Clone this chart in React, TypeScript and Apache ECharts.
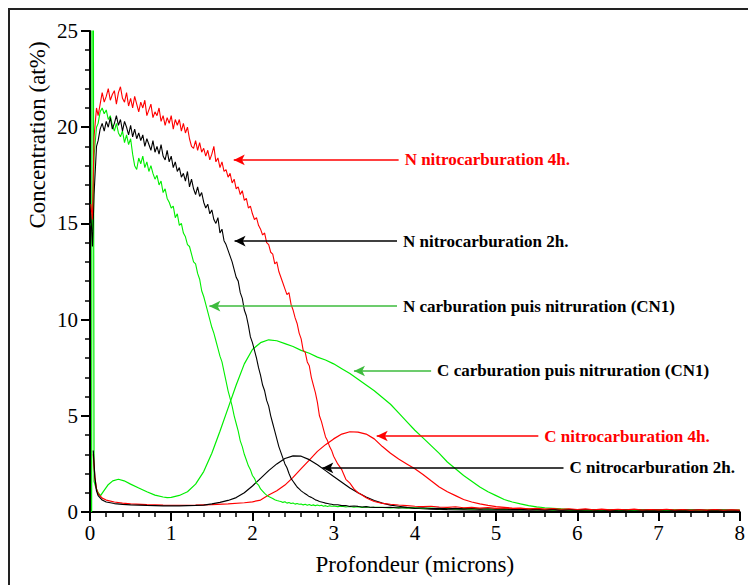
import { useEffect, useRef } from 'react';
import * as echarts from 'echarts';

// ---------- data (depth in microns, concentration in at%) ----------
const depthSurfaceN = [0.01, 0.03, 0.05, 0.08];
const depthFine = [
  0.100, 0.125, 0.150, 0.175, 0.200, 0.225, 0.250, 0.275, 0.300, 0.325,
  0.350, 0.375, 0.400, 0.425, 0.450, 0.475, 0.500, 0.525, 0.550, 0.575,
  0.600, 0.625, 0.650, 0.675, 0.700, 0.725, 0.750, 0.775, 0.800, 0.825,
  0.850, 0.875, 0.900, 0.925, 0.950, 0.975, 1.000, 1.025, 1.050, 1.075,
  1.100, 1.125, 1.150, 1.175, 1.200, 1.225, 1.250, 1.275, 1.300, 1.325,
  1.350, 1.375, 1.400, 1.425, 1.450, 1.475, 1.500, 1.525, 1.550, 1.575,
  1.600, 1.625, 1.650, 1.675, 1.700, 1.725, 1.750, 1.775, 1.800, 1.825,
  1.850, 1.875, 1.900, 1.925, 1.950, 1.975, 2.000, 2.025, 2.050, 2.075,
  2.100, 2.125, 2.150, 2.175, 2.200, 2.225, 2.250, 2.275, 2.300, 2.325,
  2.350, 2.375, 2.400, 2.425, 2.450, 2.475, 2.500, 2.525, 2.550, 2.575,
  2.600, 2.625, 2.650, 2.675, 2.700, 2.725, 2.750, 2.775, 2.800, 2.825,
  2.850, 2.875, 2.900, 2.925, 2.950, 2.975, 3.000,
];
const depthMid = [3.05, 3.10, 3.15, 3.20, 3.25, 3.30, 3.35, 3.40, 3.45, 3.50];
const depthTail = [
  3.6, 3.7, 3.8, 3.9, 4.0, 4.1, 4.2, 4.3, 4.4, 4.5, 4.6, 4.7, 4.8, 4.9, 5.0,
  5.1, 5.2, 5.3, 5.4, 5.5, 5.6, 5.7, 5.8, 5.9, 6.0, 6.1, 6.2, 6.3, 6.4, 6.5,
  6.6, 6.7, 6.8, 6.9, 7.0, 7.1, 7.2, 7.3, 7.4, 7.5, 7.6, 7.7, 7.8, 7.9, 8.0,
];

// N nitrocarburation 4h (red)
const n4hSurface = [16.0, 15.2, 19.5, 21.0];
const n4hFine = [
  20.6, 21.2, 21.8, 21.3, 21.6, 22.0, 21.4, 21.7, 21.9, 21.2,
  21.8, 22.1, 21.5, 21.3, 21.8, 21.1, 21.5, 21.0, 21.6, 21.2,
  20.8, 21.3, 21.0, 21.4, 20.6, 20.9, 21.2, 20.5, 20.8, 20.6,
  21.0, 20.3, 20.6, 20.1, 20.5, 20.2, 20.6, 19.9, 20.4, 20.1,
  20.4, 19.8, 20.2, 19.7, 20.0, 19.4, 19.0, 18.9, 19.3, 18.8,
  19.2, 18.7, 18.9, 18.5, 18.8, 18.3, 18.6, 19.0, 18.2, 18.4,
  17.9, 18.2, 17.7, 17.8, 17.4, 17.6, 17.1, 17.3, 16.8, 16.9,
  16.5, 16.7, 16.2, 16.3, 15.8, 15.9, 15.5, 15.2, 15.3, 14.9,
  14.7, 14.4, 14.5, 14.0, 13.9, 13.5, 13.4, 12.9, 13.0, 12.5,
  12.2, 11.9, 11.6, 11.3, 11.4, 10.8, 10.5, 10.1, 9.8, 9.3,
  9.0, 8.4, 8.3, 7.8, 7.6, 7.0, 6.6, 6.2, 5.7, 5.0,
  4.7, 4.3, 3.9, 3.7, 3.4, 3.2, 2.9,
];
const n4hMid = [2.5, 2.2, 1.7, 1.5, 1.2, 1.0, 0.88, 0.74, 0.64, 0.55];
const n4hTail = [
  0.45, 0.40, 0.36, 0.33, 0.30, 0.28, 0.30, 0.26, 0.24, 0.27, 0.22, 0.24, 0.20, 0.23, 0.19,
  0.21, 0.18, 0.20, 0.16, 0.19, 0.15, 0.18, 0.14, 0.17, 0.13, 0.16, 0.12, 0.15, 0.11, 0.14,
  0.12, 0.15, 0.10, 0.13, 0.11, 0.14, 0.10, 0.13, 0.09, 0.12, 0.10, 0.13, 0.09, 0.12, 0.10,
];

// N nitrocarburation 2h (black)
const n2hSurface = [15.5, 13.8, 16.5, 19.0];
const n2hFine = [
  19.3, 19.9, 20.2, 19.8, 20.3, 20.0, 20.5, 19.9, 20.2, 20.6,
  20.1, 20.4, 19.8, 20.3, 20.0, 19.6, 20.1, 19.5, 19.9, 19.4,
  19.7, 19.3, 19.6, 19.0, 19.4, 19.1, 18.8, 19.3, 18.7, 19.0,
  18.6, 19.1, 18.5, 18.3, 18.8, 18.2, 18.5, 17.9, 18.2, 17.7,
  17.9, 17.4, 17.6, 17.2, 17.7, 16.9, 17.3, 16.8, 16.5, 16.9,
  16.4, 16.6, 16.1, 15.8, 16.0, 15.5, 15.7, 15.2, 15.0, 15.3,
  14.5, 14.7, 14.1, 13.9, 13.6, 13.3, 13.0, 12.6, 12.2, 12.0,
  11.4, 11.1, 10.5, 10.2, 9.7, 9.1, 8.8, 8.4, 8.0, 7.5,
  7.1, 6.6, 6.3, 5.8, 5.5, 5.0, 4.6, 4.2, 3.8, 3.4,
  3.1, 2.8, 2.5, 2.3, 2.0, 1.75, 1.6, 1.45, 1.3, 1.2,
  1.1, 1.02, 0.95, 0.88, 0.8, 0.76, 0.7, 0.63, 0.6, 0.55,
  0.52, 0.49, 0.46, 0.44, 0.42, 0.40, 0.38,
];
const n2hMid = [0.38, 0.33, 0.34, 0.29, 0.31, 0.29, 0.26, 0.28, 0.25, 0.24];
const n2hTail = [
  0.23, 0.25, 0.21, 0.23, 0.19, 0.22, 0.18, 0.20, 0.17, 0.19, 0.16, 0.18, 0.15, 0.17, 0.14,
  0.16, 0.13, 0.15, 0.12, 0.14, 0.11, 0.14, 0.10, 0.13, 0.11, 0.13, 0.10, 0.12, 0.09, 0.12,
  0.10, 0.13, 0.09, 0.11, 0.10, 0.12, 0.08, 0.11, 0.09, 0.12, 0.08, 0.11, 0.09, 0.10, 0.08,
];

// N carburation puis nitruration CN1 (green)
const nCN1Surface = [15.0, 14.6, 18.5, 20.0];
const nCN1Fine = [
  20.2, 20.8, 21.0, 20.7, 20.9, 20.4, 20.6, 20.1, 19.8, 20.2,
  19.7, 19.5, 19.8, 19.2, 19.6, 19.1, 19.4, 18.6, 18.0, 17.8,
  18.4, 18.1, 18.5, 17.9, 18.2, 17.7, 18.0, 17.6, 17.3, 17.5,
  17.0, 17.2, 16.6, 16.8, 16.3, 16.1, 15.8, 15.9, 15.3, 15.5,
  14.9, 15.0, 14.5, 14.3, 13.9, 13.8, 13.4, 13.0, 12.9, 12.4,
  12.1, 11.5, 11.2, 10.8, 10.4, 10.0, 9.6, 9.3, 8.9, 8.5,
  8.1, 7.8, 7.3, 6.8, 6.3, 5.9, 5.5, 5.0, 4.6, 4.2,
  3.7, 3.4, 3.0, 2.7, 2.4, 2.2, 1.9, 1.75, 1.5, 1.4,
  1.2, 1.08, 0.97, 0.88, 0.8, 0.75, 0.7, 0.64, 0.6, 0.57,
  0.55, 0.5, 0.53, 0.46, 0.49, 0.44, 0.47, 0.41, 0.44, 0.4,
  0.42, 0.37, 0.4, 0.35, 0.39, 0.34, 0.37, 0.33, 0.36, 0.32,
  0.35, 0.30, 0.33, 0.29, 0.32, 0.30, 0.31,
];
const nCN1Mid = [0.28, 0.30, 0.26, 0.29, 0.25, 0.27, 0.24, 0.26, 0.23, 0.25];
const nCN1Tail = [
  0.24, 0.21, 0.23, 0.20, 0.22, 0.18, 0.21, 0.17, 0.20, 0.16, 0.19, 0.15, 0.18, 0.14, 0.17,
  0.13, 0.16, 0.12, 0.15, 0.12, 0.14, 0.11, 0.14, 0.10, 0.13, 0.11, 0.12, 0.09, 0.13, 0.10,
  0.12, 0.09, 0.12, 0.10, 0.11, 0.08, 0.12, 0.09, 0.11, 0.08, 0.10, 0.09, 0.11, 0.08, 0.10,
];

// C carburation puis nitruration CN1 (green)
const cCN1Depth = [
  0.02, 0.025, 0.04, 0.05, 0.07, 0.1, 0.13, 0.17, 0.22, 0.28, 0.35, 0.42, 0.5, 0.6, 0.7, 0.8, 0.9, 0.95, 1.0,
  1.1, 1.2, 1.3, 1.4, 1.5, 1.6, 1.7, 1.8, 1.9, 2.0,
  2.1, 2.2, 2.3, 2.4, 2.5, 2.6, 2.7, 2.8, 2.9, 3.0,
  3.1, 3.2, 3.3, 3.4, 3.5, 3.6, 3.7, 3.8, 3.9, 4.0,
  4.1, 4.2, 4.3, 4.4, 4.5, 4.6, 4.7, 4.8, 4.9, 5.0,
  5.1, 5.2, 5.3, 5.4, 5.5, 5.6, 5.7, 5.8, 5.9, 6.0,
  6.3, 6.6, 7.0, 7.5, 8.0,
];
const cCN1Value = [
  0, 30, 30, 1.6, 1.3, 1.0, 0.85, 1.1, 1.4, 1.62, 1.7, 1.62, 1.45, 1.25, 1.05, 0.88, 0.78, 0.75, 0.76,
  0.86, 1.05, 1.45, 2.1, 3.05, 4.2, 5.4, 6.6, 7.7, 8.45,
  8.8, 8.95, 8.9, 8.75, 8.6, 8.4, 8.25, 8.05, 7.9, 7.7,
  7.45, 7.2, 6.9, 6.6, 6.3, 5.95, 5.6, 5.15, 4.7, 4.25,
  3.85, 3.45, 3.05, 2.6, 2.25, 1.9, 1.6, 1.3, 1.05, 0.85,
  0.65, 0.52, 0.42, 0.33, 0.27, 0.22, 0.19, 0.16, 0.14, 0.13,
  0.11, 0.10, 0.09, 0.08, 0.08,
];

// C nitrocarburation 4h (red)
const c4hDepth = [
  0.04, 0.06, 0.08, 0.1, 0.15, 0.2, 0.3, 0.4, 0.5, 0.7, 0.9, 1.1, 1.3, 1.5, 1.7, 1.9,
  2.0, 2.1, 2.2, 2.3, 2.4, 2.5, 2.6, 2.7, 2.8, 2.9,
  3.0, 3.1, 3.2, 3.3, 3.4, 3.5, 3.6, 3.7, 3.8, 3.9,
  4.0, 4.1, 4.2, 4.3, 4.4, 4.5, 4.6, 4.7, 4.8, 4.9,
  5.0, 5.2, 5.4, 5.6, 6.0, 6.5, 7.0, 7.5, 8.0,
];
const c4hValue = [
  3.0, 1.8, 1.2, 0.95, 0.72, 0.62, 0.52, 0.46, 0.42, 0.38, 0.36, 0.35, 0.36, 0.38, 0.42, 0.48,
  0.53, 0.62, 0.88, 1.1, 1.4, 1.8, 2.25, 2.7, 3.15, 3.5,
  3.8, 4.05, 4.17, 4.15, 4.05, 3.8, 3.4, 3.05, 2.75, 2.5,
  2.25, 1.95, 1.62, 1.3, 1.05, 0.85, 0.65, 0.52, 0.42, 0.34,
  0.28, 0.20, 0.16, 0.13, 0.11, 0.10, 0.09, 0.09, 0.08,
];

// C nitrocarburation 2h (black)
const c2hDepth = [
  0.04, 0.06, 0.08, 0.1, 0.15, 0.2, 0.3, 0.4, 0.5, 0.7, 0.9, 1.1, 1.3,
  1.4, 1.5, 1.6, 1.7, 1.8, 1.9,
  2.0, 2.1, 2.2, 2.3, 2.4, 2.5, 2.6, 2.7, 2.8, 2.9,
  3.0, 3.1, 3.2, 3.3, 3.4, 3.5, 3.6, 3.7, 3.8, 3.9,
  4.0, 4.2, 4.4, 4.8, 5.5, 6.5, 8.0,
];
const c2hValue = [
  3.2, 1.8, 1.1, 0.85, 0.62, 0.52, 0.44, 0.4, 0.37, 0.34, 0.32, 0.32, 0.34,
  0.36, 0.42, 0.5, 0.6, 0.75, 1.0,
  1.35, 1.75, 2.15, 2.5, 2.78, 2.92, 2.9, 2.72, 2.45, 2.15,
  1.85, 1.55, 1.25, 1.0, 0.78, 0.6, 0.46, 0.36, 0.3, 0.24,
  0.2, 0.15, 0.12, 0.10, 0.09, 0.08, 0.07,
];

// annotation texts and arrow spans [depthFrom, depthTo, level]
const labelN4h = 'N nitrocarburation 4h.';
const labelN2h = 'N nitrocarburation 2h.';
const labelNCN1 = 'N carburation puis nitruration (CN1)';
const labelCCN1 = 'C carburation puis nitruration (CN1)';
const labelC4h = 'C nitrocarburation 4h.';
const labelC2h = 'C nitrocarburation 2h.';
const arrowN4h = [1.77, 3.80, 18.3];
const arrowN2h = [1.78, 3.78, 14.08];
const arrowNCN1 = [1.47, 3.78, 10.7];
const arrowCCN1 = [3.25, 4.20, 7.33];
const arrowC4h = [3.53, 5.52, 3.95];
const arrowC2h = [2.86, 5.83, 2.29];

const xTicks = [0, 1, 2, 3, 4, 5, 6, 7, 8];
const yTicks = [0, 5, 10, 15, 20, 25];

const SERIF = 'Liberation Serif, Times New Roman, serif';
const RED = '#ff0000';
const BLACK = '#000000';
const GREEN = '#00ee00';
const ARROW_GREEN = '#3dbb3d';

function zip(xs: number[], ys: number[]) {
  return xs.map((x, i) => [x, ys[i]]);
}

function annotate(span: number[], text: string, lineColor: string, textColor: string) {
  return {
    silent: true,
    animation: false,
    symbol: ['arrow', 'none'],
    symbolSize: [8, 11],
    lineStyle: { type: 'solid', width: 1.5, color: lineColor },
    label: {
      show: true,
      position: 'end',
      distance: 6,
      formatter: text,
      color: textColor,
      fontFamily: SERIF,
      fontWeight: 'bold',
      fontSize: 17,
    },
    emphasis: { disabled: true },
    data: [[{ coord: [span[0], span[2]] }, { coord: [span[1], span[2]] }]],
  };
}

function lineSeries(name: string, data: number[][], color: string, width: number, markLine?: any, z = 2) {
  return {
    name,
    type: 'line',
    data,
    showSymbol: false,
    symbol: 'none',
    clip: true,
    z,
    lineStyle: { color, width },
    itemStyle: { color },
    emphasis: { disabled: true },
    markLine,
  };
}

export default function App() {
  const ref = useRef<HTMLDivElement>(null);

  useEffect(() => {
    document.body.style.margin = '0';
    if (!ref.current) return;
    const chart = echarts.init(ref.current, null, { renderer: 'svg' });

    const buildN = (surface: number[], fine: number[], mid: number[], tail: number[]) => [
      ...zip(depthSurfaceN, surface),
      ...zip(depthFine, fine),
      ...zip(depthMid, mid),
      ...zip(depthTail, tail),
    ];
    const n4h = buildN(n4hSurface, n4hFine, n4hMid, n4hTail);
    const n2h = buildN(n2hSurface, n2hFine, n2hMid, n2hTail);
    const nCN1 = buildN(nCN1Surface, nCN1Fine, nCN1Mid, nCN1Tail);

    const axisCommon = {
      type: 'value',
      splitLine: { show: false },
      axisLine: { show: true, onZero: false, lineStyle: { color: '#000', width: 2 } },
      axisTick: { show: true, inside: false, length: 9, lineStyle: { color: '#000', width: 2 } },
      minorTick: { show: true, splitNumber: 5, length: 5, lineStyle: { color: '#000', width: 1.5 } },
      minorSplitLine: { show: false },
    };

    const option: any = {
      animation: false,
      backgroundColor: '#ffffff',
      textStyle: { fontFamily: SERIF },
      grid: { left: 90, right: 6, top: 31, bottom: 73, containLabel: false },
      xAxis: {
        ...axisCommon,
        min: xTicks[0],
        max: xTicks[xTicks.length - 1],
        interval: 1,
        name: 'Profondeur (microns)',
        nameLocation: 'middle',
        nameGap: 41,
        nameTextStyle: { fontFamily: SERIF, fontSize: 23, color: '#000' },
        axisLabel: { fontFamily: SERIF, fontSize: 21, color: '#000', margin: 10 },
      },
      yAxis: {
        ...axisCommon,
        min: yTicks[0],
        max: yTicks[yTicks.length - 1],
        interval: 5,
        axisLabel: { fontFamily: SERIF, fontSize: 21, color: '#000', margin: 12 },
      },
      graphic: [
        {
          type: 'rect',
          x: 9,
          y: 9,
          shape: { x: 0, y: 0, width: 800, height: 700 },
          style: { fill: 'none', stroke: '#222', lineWidth: 2 },
          silent: true,
          z: -1,
        },
        {
          type: 'text',
          x: 37,
          y: 135,
          rotation: Math.PI / 2,
          style: {
            text: 'Concentration (at%)',
            fontFamily: SERIF,
            fontSize: 23,
            fill: '#000',
            textAlign: 'center',
            textVerticalAlign: 'middle',
          },
          silent: true,
        },
      ],
      series: [
        lineSeries('C CN1', zip(cCN1Depth, cCN1Value), GREEN, 1.2, annotate(arrowCCN1, labelCCN1, ARROW_GREEN, BLACK), 2),
        lineSeries('C 4h', zip(c4hDepth, c4hValue), RED, 1.2, annotate(arrowC4h, labelC4h, RED, RED), 2),
        lineSeries('C 2h', zip(c2hDepth, c2hValue), BLACK, 1.2, annotate(arrowC2h, labelC2h, BLACK, BLACK), 2),
        lineSeries('N CN1', nCN1, GREEN, 1.1, annotate(arrowNCN1, labelNCN1, ARROW_GREEN, BLACK), 3),
        lineSeries('N 2h', n2h, BLACK, 1.1, annotate(arrowN2h, labelN2h, BLACK, BLACK), 3),
        lineSeries('N 4h', n4h, RED, 1.1, annotate(arrowN4h, labelN4h, RED, RED), 3),
      ],
    };

    chart.setOption(option);
    return () => chart.dispose();
  }, []);

  return <div ref={ref} style={{ width: 748, height: 585 }} />;
}
